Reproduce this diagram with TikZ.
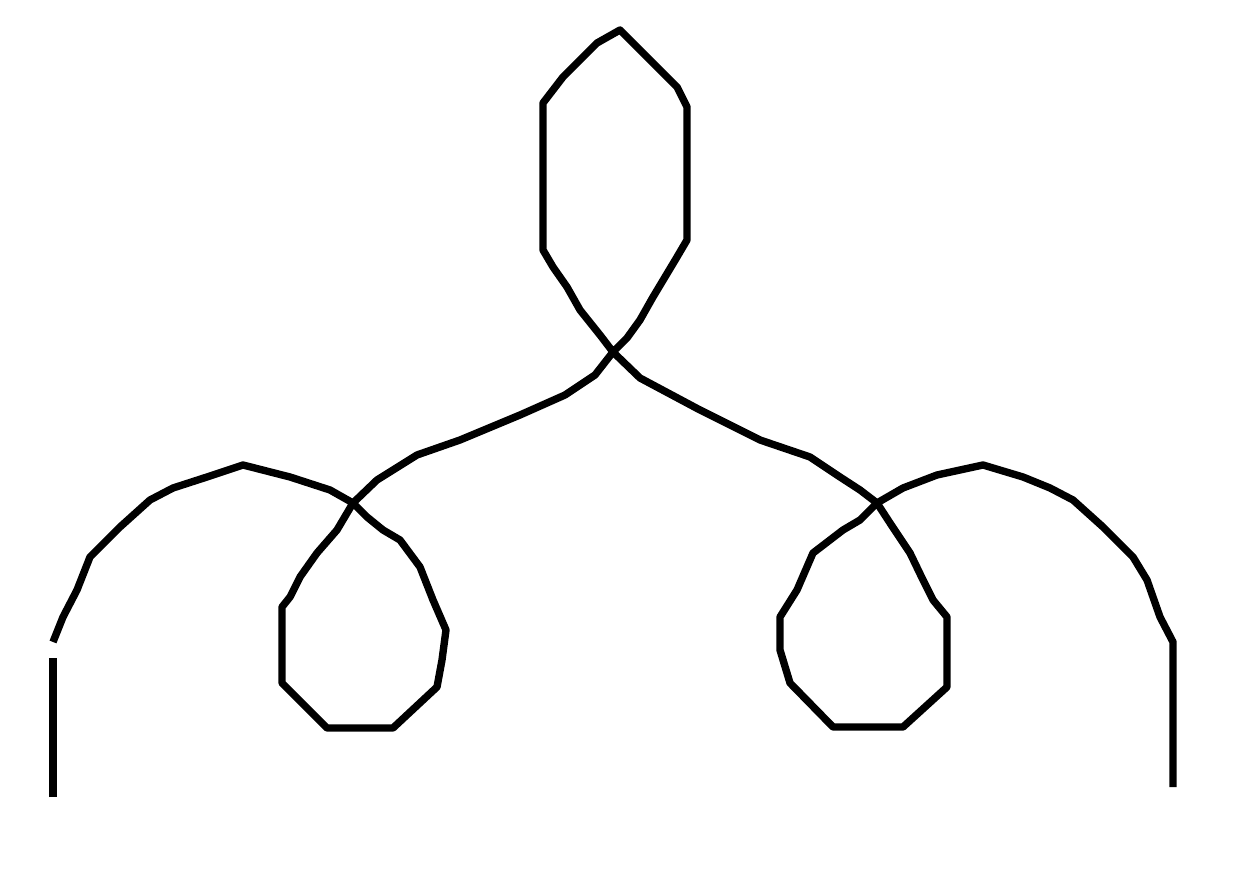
\documentclass[tikz,border=0pt]{standalone}
\begin{document}
\begin{tikzpicture}[x=0.01cm,y=-0.01cm,
  curve/.style={draw=black,line width=2.1pt,line join=round,line cap=butt}]
\useasboundingbox (0,0) rectangle (1252,880);
% left foot
\draw[curve] (53,797) -- (53,658);
% main curve
\draw[curve] (53,642) -- (63,617) -- (77,590) -- (90,557) -- (120,527) -- (150,500) -- (173,488) -- (207,477) -- (243,465) -- (290,477) -- (330,490) -- (353,503)
  -- (367,517) -- (383,530) -- (400,540) -- (420,567) -- (433,600) -- (446,630) -- (442,660) -- (437,687) -- (393,728) -- (327,728) -- (282,683) -- (282,607) -- (290,597) -- (300,577) -- (317,553) -- (337,530) -- (353,503)
  -- (377,480) -- (417,455) -- (460,440) -- (520,415) -- (565,395) -- (595,375) -- (613,352)
  -- (627,338) -- (640,320) -- (653,297) -- (677,257) -- (687,240) -- (687,107) -- (677,87) -- (620,30) -- (597,43) -- (563,77) -- (553,90) -- (543,103) -- (543,250) -- (553,267) -- (567,287) -- (580,310) -- (600,335) -- (613,352)
  -- (640,378) -- (700,410) -- (760,440) -- (810,457) -- (840,477) -- (860,490) -- (877,503)
  -- (890,523) -- (910,553) -- (923,580) -- (933,600) -- (947,617) -- (947,687) -- (903,727) -- (833,727) -- (790,683) -- (780,650) -- (780,617) -- (797,590) -- (813,553) -- (843,530) -- (860,520) -- (877,503)
  -- (903,488) -- (937,475) -- (983,465) -- (1023,477) -- (1050,488) -- (1073,500) -- (1103,527) -- (1133,557) -- (1147,580) -- (1160,617) -- (1173,642) -- (1173,787);
\end{tikzpicture}
\end{document}
